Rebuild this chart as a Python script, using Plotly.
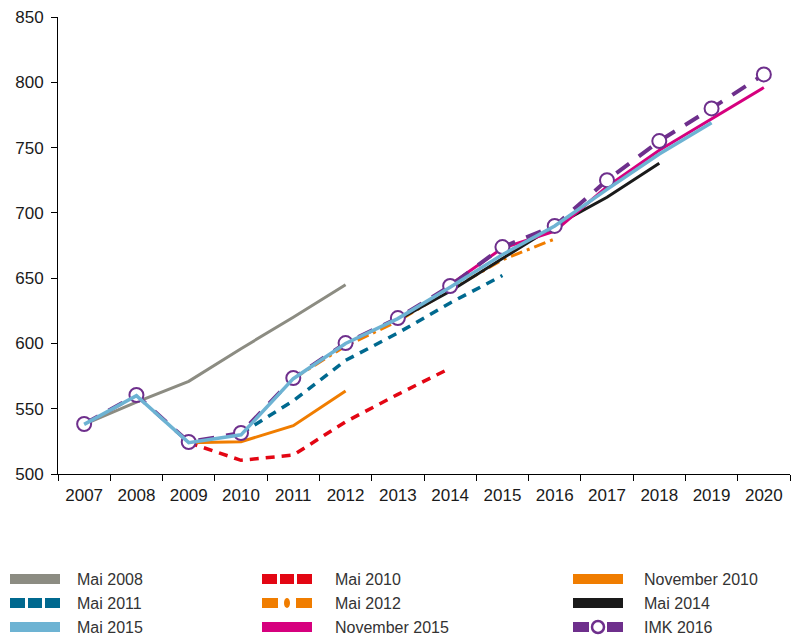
import plotly.graph_objects as go

years = [str(y) for y in range(2007, 2021)]

# forecast vintages
mai2008_x = ["2007", "2008", "2009", "2010", "2011", "2012"]
mai2008_y = [538, 555, 571, 596, 620, 645]

mai2010_x = ["2009", "2010", "2011", "2012", "2013", "2014"]
mai2010_y = [524, 510.5, 514.5, 540, 561, 581]

nov2010_x = ["2009", "2010", "2011", "2012"]
nov2010_y = [524, 524.7, 537, 563.5]

mai2011_x = ["2010", "2011", "2012", "2013", "2014", "2015"]
mai2011_y = [531, 556, 587, 608, 631, 652]

mai2012_x = ["2011", "2012", "2013", "2014", "2015", "2016"]
mai2012_y = [573, 598, 617, 641, 664, 680]

mai2014_x = ["2013", "2014", "2015", "2016", "2017", "2018"]
mai2014_y = [618, 640, 665, 690, 712, 738]

nov2015_x = ["2014", "2015", "2016", "2017", "2018", "2019", "2020"]
nov2015_y = [645, 673, 686, 720, 748, 772, 796]

imk2016_x = years
imk2016_y = [538.3, 560.5, 524.5, 531.4, 573.5, 600.3, 619.4, 644, 673.8, 690, 725, 755, 780, 806]

mai2015_x = ["2007", "2008", "2009", "2010", "2011", "2012", "2013",
             "2014", "2015", "2016", "2017", "2018", "2019"]
mai2015_y = [538, 560, 524, 530, 573, 600, 619, 643, 668, 690, 718, 745, 769]

GREY = "#8c8c82"
RED = "#e30613"
ORANGE = "#f07d00"
TEAL = "#00698f"
BLACK = "#1a1a1a"
LIGHTBLUE = "#6db3d3"
MAGENTA = "#d6007e"
PURPLE = "#6e2f8c"

fig = go.Figure()


def add_line(x, y, color, width, dash="solid"):
    fig.add_trace(go.Scatter(x=x, y=y, mode="lines",
                             line=dict(color=color, width=width, dash=dash),
                             showlegend=False, hoverinfo="x+y"))


add_line(mai2008_x, mai2008_y, GREY, 3)
add_line(mai2010_x, mai2010_y, RED, 3.5, "9px,7px")
add_line(nov2010_x, nov2010_y, ORANGE, 3)
add_line(mai2011_x, mai2011_y, TEAL, 3.5, "9px,7px")
add_line(mai2012_x, mai2012_y, ORANGE, 3, "12px,5px,3px,5px")
add_line(mai2014_x, mai2014_y, BLACK, 3)
add_line(nov2015_x, nov2015_y, MAGENTA, 3)
fig.add_trace(go.Scatter(
    x=imk2016_x, y=imk2016_y, mode="lines+markers",
    line=dict(color=PURPLE, width=4, dash="16px,12px"),
    marker=dict(symbol="circle", size=14, color="white",
                line=dict(color=PURPLE, width=2)),
    showlegend=False, hoverinfo="x+y"))
add_line(mai2015_x, mai2015_y, LIGHTBLUE, 3.5)

# page body adds an 8px margin, so work in shifted coordinates
OFF = 8
W, H = 800 - OFF, 639 - OFF
L, R, T, B = 58 - OFF, 790 - OFF, 17 - OFF, 474 - OFF


def px(v):
    return (v - OFF - L) / (R - L)


def py(v):
    return (B - (v - OFF)) / (B - T)


# legend drawn by hand (3 columns x 3 rows)
legend_items = [
    ("Mai 2008", GREY, "solid"), ("Mai 2010", RED, "squares"), ("November 2010", ORANGE, "solid"),
    ("Mai 2011", TEAL, "squares"), ("Mai 2012", ORANGE, "dashdot"), ("Mai 2014", BLACK, "solid"),
    ("Mai 2015", LIGHTBLUE, "solid"), ("November 2015", MAGENTA, "solid"), ("IMK 2016", PURPLE, "circle"),
]
col_x = [10, 262, 573]
text_x = [75, 333, 642]
row_y = [579, 603, 627]

shapes = []
annotations = []
for i, (name, color, kind) in enumerate(legend_items):
    c, r = i % 3, i // 3
    x0, yc = col_x[c], row_y[r]
    if kind == "solid":
        segs = [(x0, x0 + 50)]
    elif kind == "squares":
        segs = [(x0, x0 + 15), (x0 + 18, x0 + 32), (x0 + 35, x0 + 50)]
    else:
        segs = [(x0, x0 + 16), (x0 + 34, x0 + 50)]
    for a, b in segs:
        shapes.append(dict(type="rect", xref="paper", yref="paper",
                           x0=px(a), x1=px(b), y0=py(yc + 5), y1=py(yc - 5),
                           fillcolor=color, line=dict(width=0)))
    if kind == "dashdot":
        shapes.append(dict(type="circle", xref="paper", yref="paper",
                           x0=px(x0 + 22), x1=px(x0 + 28), y0=py(yc + 5), y1=py(yc - 5),
                           fillcolor=color, line=dict(width=0)))
    if kind == "circle":
        shapes.append(dict(type="circle", xref="paper", yref="paper",
                           x0=px(x0 + 19), x1=px(x0 + 31), y0=py(yc + 6), y1=py(yc - 6),
                           fillcolor="white", line=dict(color=color, width=2.5)))
    annotations.append(dict(text=name, xref="paper", yref="paper",
                            x=px(text_x[c]), y=py(yc), xanchor="left", yanchor="middle",
                            showarrow=False,
                            font=dict(size=16, color="#333333",
                                      family="Liberation Sans, Arial, sans-serif")))

fig.update_layout(
    width=W, height=H,
    margin=dict(l=L, r=W - R, t=T, b=H - B),
    plot_bgcolor="white", paper_bgcolor="white",
    font=dict(family="Liberation Sans, Arial, sans-serif", size=17, color="#1a1a1a"),
    shapes=shapes, annotations=annotations,
    showlegend=False,
)
fig.update_xaxes(type="category", categoryorder="array", categoryarray=years,
                 range=[-0.5, 13.5], tickson="boundaries", ticks="outside",
                 ticklen=6, tickcolor="black", showline=True, linecolor="black",
                 linewidth=1, showgrid=False, zeroline=False, ticklabelstandoff=6,
                 automargin=False)
fig.update_yaxes(range=[500, 850], dtick=50, ticks="outside", ticklen=6,
                 tickcolor="black", showline=True, linecolor="black", linewidth=1,
                 showgrid=False, zeroline=False, ticklabelstandoff=4,
                 ticklabeloverflow="allow", automargin=False)

fig.write_html("out.html")
